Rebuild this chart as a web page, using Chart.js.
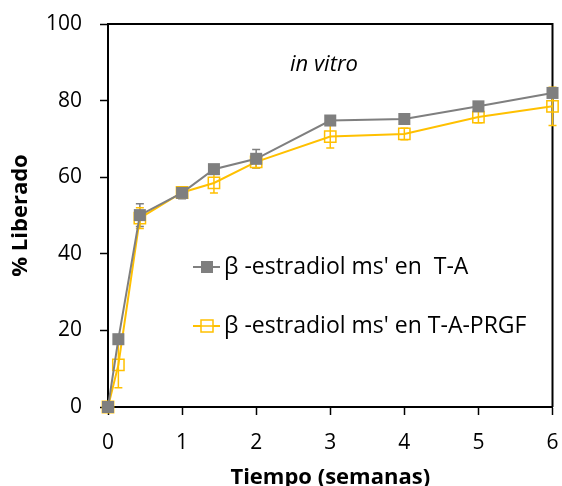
<!DOCTYPE html>
<html>
<head>
<meta charset="utf-8">
<script src="https://cdn.jsdelivr.net/npm/chart.js@4.4.0/dist/chart.umd.min.js"></script>
<style>
  html, body { margin: 0; padding: 0; background: #fff; }
  #wrap { width: 562px; height: 486px; }
</style>
</head>
<body>
<div id="wrap"><canvas id="releaseChart" width="562" height="486"></canvas></div>
<script>
// Data
const weeks = [0, 0.14, 0.43, 1, 1.43, 2, 3, 4, 5, 6];
const releaseTA = [0, 17.7, 50.1, 55.9, 62.1, 64.8, 74.8, 75.2, 78.5, 82.0];
const errTA = [0, 0, 3, 1.5, 1, 2.4, 1, 1, 1, 1];
const releasePRGF = [0, 11.0, 49.3, 56.0, 58.5, 64.0, 70.6, 71.3, 75.7, 78.5];
const errPRGF = [0, 6, 2.7, 1, 2.6, 1.5, 3, 1.5, 1.5, 5];
const xTicks = [0, 1, 2, 3, 4, 5, 6];
const yTicks = [0, 20, 40, 60, 80, 100];
const labelTA = "β -estradiol ms' en  T-A";
const labelPRGF = "β -estradiol ms' en T-A-PRGF";

const GRAY = '#7f7f7f';
const YELLOW = '#ffc000';
const FONT = "'Open Sans', Lato, sans-serif";

function toPoints(ys) {
  return weeks.map((x, i) => ({ x: x, y: ys[i] }));
}

// error bars, box border and legend drawn through the chart's scales
const extrasPlugin = {
  id: 'extras',
  beforeDatasetsDraw(chart) {
    const ctx = chart.ctx;
    const a = chart.chartArea;
    ctx.save();
    ctx.strokeStyle = '#000';
    ctx.lineWidth = 2;
    ctx.beginPath();
    ctx.moveTo(a.left, a.top);
    ctx.lineTo(a.right, a.top);
    ctx.lineTo(a.right, a.bottom);
    ctx.stroke();
    ctx.restore();

    const xs = chart.scales.x, ys = chart.scales.y;
    const sets = [[releaseTA, errTA, GRAY], [releasePRGF, errPRGF, YELLOW]];
    sets.forEach(function (s) {
      ctx.save();
      ctx.strokeStyle = s[2];
      ctx.lineWidth = 1.5;
      weeks.forEach(function (w, i) {
        if (!s[1][i]) return;
        const px = xs.getPixelForValue(w);
        const top = ys.getPixelForValue(s[0][i] + s[1][i]);
        const bot = ys.getPixelForValue(s[0][i] - s[1][i]);
        ctx.beginPath();
        ctx.moveTo(px, top); ctx.lineTo(px, bot);
        ctx.moveTo(px - 4, top); ctx.lineTo(px + 4, top);
        ctx.moveTo(px - 4, bot); ctx.lineTo(px + 4, bot);
        ctx.stroke();
      });
      ctx.restore();
    });
  },
  afterDatasetsDraw(chart) {
    const ctx = chart.ctx;
    ctx.save();
    // annotation
    ctx.fillStyle = '#000';
    ctx.font = 'italic 22px ' + FONT;
    ctx.textAlign = 'center';
    ctx.textBaseline = 'middle';
    ctx.fillText('in vitro', 324, 65);

    // legend
    const items = [
      { y: 267, color: GRAY, fill: true, text: labelTA },
      { y: 326, color: YELLOW, fill: false, text: labelPRGF }
    ];
    items.forEach(function (it) {
      ctx.strokeStyle = it.color;
      ctx.lineWidth = 2;
      ctx.beginPath();
      ctx.moveTo(193, it.y); ctx.lineTo(220, it.y);
      ctx.stroke();
      if (it.fill) {
        ctx.fillStyle = it.color;
        ctx.fillRect(201, it.y - 6, 12, 12);
      } else {
        ctx.fillStyle = '#fff';
        ctx.fillRect(201, it.y - 6, 12, 12);
        ctx.lineWidth = 1.5;
        ctx.strokeRect(201, it.y - 6, 12, 12);
        ctx.beginPath();
        ctx.moveTo(201, it.y); ctx.lineTo(213, it.y);
        ctx.stroke();
      }
      ctx.fillStyle = '#000';
      ctx.font = '23px ' + FONT;
      ctx.textAlign = 'left';
      ctx.textBaseline = 'middle';
      ctx.fillText(it.text, 224, it.y);
    });
    ctx.restore();
  }
};

new Chart(document.getElementById('releaseChart'), {
  type: 'line',
  data: {
    datasets: [{
      label: labelTA,
      data: toPoints(releaseTA),
      borderColor: GRAY,
      backgroundColor: GRAY,
      borderWidth: 2,
      pointStyle: 'rect',
      pointRadius: 8.5,
      pointBorderWidth: 0,
      pointBackgroundColor: GRAY,
      tension: 0,
      clip: false
    }, {
      label: labelPRGF,
      data: toPoints(releasePRGF),
      borderColor: YELLOW,
      backgroundColor: YELLOW,
      borderWidth: 2,
      pointStyle: 'rect',
      pointRadius: 8,
      pointBorderWidth: 1.5,
      pointBorderColor: YELLOW,
      pointBackgroundColor: 'rgba(255,255,255,0)',
      tension: 0,
      clip: false
    }]
  },
  options: {
    responsive: false,
    animation: false,
    layout: { padding: { left: 0, right: 7, top: 24, bottom: 0 } },
    plugins: {
      legend: { display: false },
      tooltip: { enabled: false }
    },
    scales: {
      x: {
        type: 'linear',
        min: 0,
        max: 6,
        afterBuildTicks: function (scale) {
          scale.ticks = xTicks.map(v => ({ value: v }));
        },
        afterFit: function (scale) {
          scale.height = 79;
          scale.paddingLeft = 0;
          scale.paddingRight = 0;
        },
        grid: { drawOnChartArea: false, color: '#000', tickLength: 8, tickWidth: 1.5 },
        border: { color: '#000', width: 2 },
        ticks: { color: '#000', font: { family: FONT, size: 21 }, padding: 15, maxRotation: 0 },
        title: {
          display: true,
          text: 'Tiempo (semanas)',
          color: '#000',
          font: { family: FONT, size: 22, weight: 'bold' },
          padding: { top: 0, bottom: -5 }
        }
      },
      y: {
        min: 0,
        max: 100,
        afterBuildTicks: function (scale) {
          scale.ticks = yTicks.map(v => ({ value: v }));
        },
        afterFit: function (scale) {
          scale.width = 108;
          scale.paddingTop = 0;
          scale.paddingBottom = 0;
        },
        grid: { drawOnChartArea: false, color: '#000', tickLength: 8, tickWidth: 1.5 },
        border: { color: '#000', width: 2 },
        ticks: { color: '#000', font: { family: FONT, size: 21 }, padding: 18 },
        title: {
          display: true,
          text: '% Liberado',
          color: '#000',
          font: { family: FONT, size: 22, weight: 'bold' },
          padding: { top: 8, bottom: 0 }
        }
      }
    }
  },
  plugins: [extrasPlugin]
});
</script>
</body>
</html>
